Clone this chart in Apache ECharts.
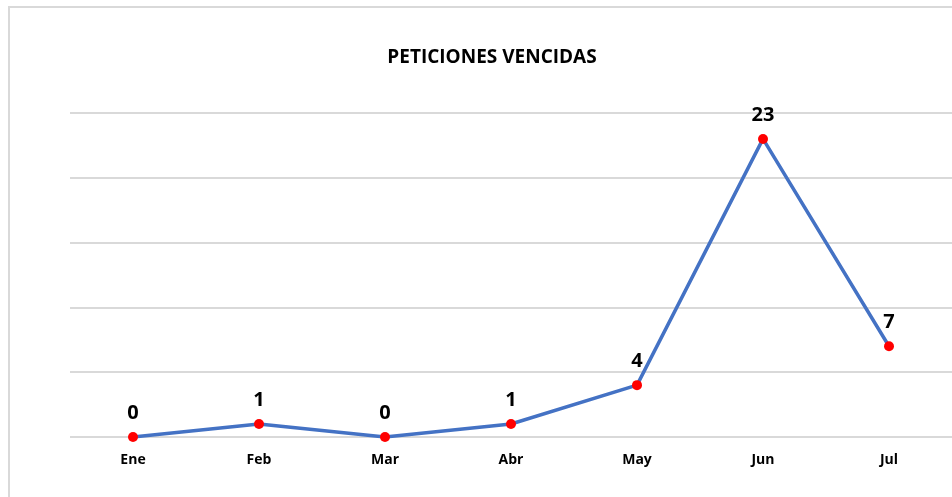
<!DOCTYPE html>
<html lang="es">
<head>
    <meta charset="UTF-8">
    <title>Peticiones vencidas</title>
    <style>
        body { margin:0; background:#fff; overflow:hidden; }
        #frame { position:absolute; left:8px; top:6px; width:1000px; height:600px;
                 border-left:2px solid #d9d9d9; border-top:2px solid #d9d9d9; }
        #demo { position:absolute; left:0; top:0; width:952px; height:497px; }
    </style>
</head>
<body>
<div id="frame"></div>
<div id="demo"></div>
<script src="https://cdn.jsdelivr.net/npm/echarts@6/dist/echarts.min.js"></script>
<script type="text/javascript">
    var meses = ['Ene', 'Feb', 'Mar', 'Abr', 'May', 'Jun', 'Jul'];
    var vencidas = [0, 1, 0, 1, 4, 23, 7];

    var myChart = echarts.init(document.getElementById('demo'));
    var option = {
        title: {
            text: 'PETICIONES VENCIDAS',
            left: 487,
            textAlign: 'center',
            top: 43,
            textStyle: { fontFamily: 'Open Sans', fontWeight: 'bold', fontSize: 19, color: '#000' }
        },
        grid: { left: 70, right: -2, top: 113, bottom: 60, containLabel: false },
        xAxis: {
            type: 'category',
            data: meses,
            boundaryGap: true,
            axisLine: { show: false },
            axisTick: { show: false },
            axisLabel: { margin: 16, color: '#000', fontFamily: 'Open Sans', fontWeight: 'bold', fontSize: 14 }
        },
        yAxis: {
            type: 'value',
            min: 0, max: 25, interval: 5,
            axisLabel: { show: false },
            axisLine: { show: false },
            axisTick: { show: false },
            splitLine: { lineStyle: { color: '#d9d9d9', width: 2 } }
        },
        series: [{
            name: 'Peticiones vencidas',
            type: 'line',
            data: vencidas,
            symbol: 'circle',
            symbolSize: 10,
            itemStyle: { color: '#ff0000' },
            lineStyle: { color: '#4472c4', width: 3.5 },
            label: {
                show: true, position: 'top', distance: 9,
                color: '#000', fontFamily: 'Open Sans', fontWeight: 'bold', fontSize: 20
            },
            z: 3
        }]
    };
    myChart.setOption(option);
</script>
</body>
</html>
